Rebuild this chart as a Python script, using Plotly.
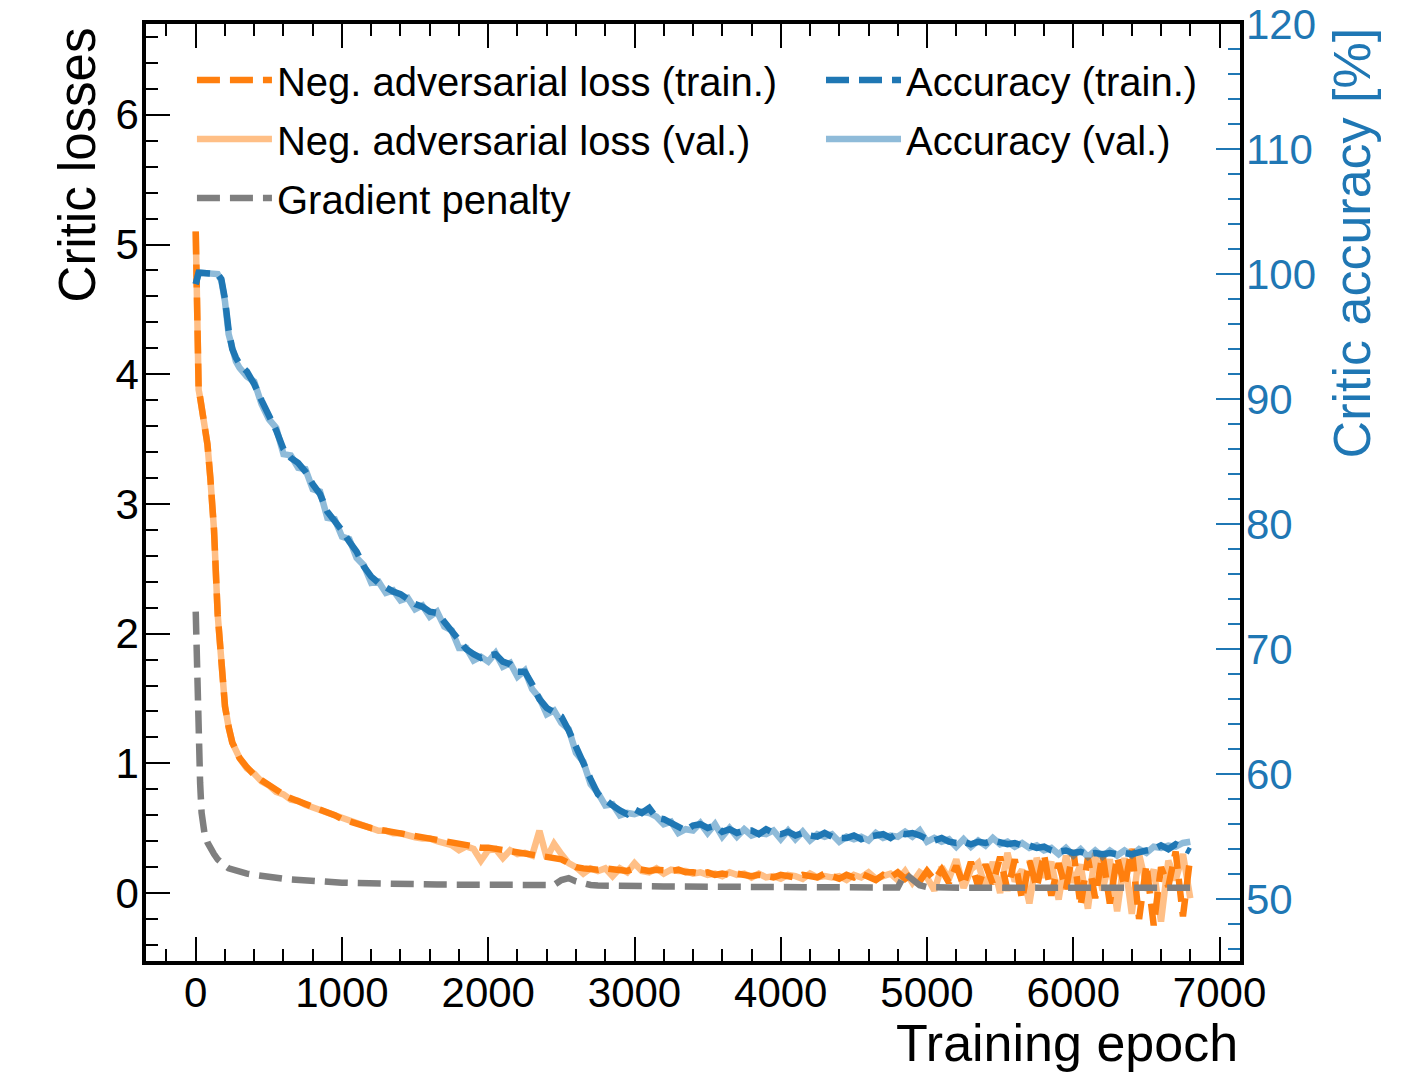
import plotly.graph_objects as go

# Epoch grid: fine steps over the initial transient, then every 50 epochs
epochs = [0, 5, 10, 15, 20, 30, 40, 50, 60, 80, 100, 125, 150, 175, 200, 225, 250, 275, 300] + list(range(350, 6801, 50))

# Critic accuracy [%] on the training set
acc_train = [
    99.2, 99.6, 99.9, 100.0, 100.1, 100.1, 100.1, 100.1, 100.1, 100.1, 100.1, 100.1, 100.0, 99.6, 98.0, 95.5, 94.0, 93.3, 92.8,
    92.2, 91.2, 89.9, 88.8, 87.5, 86.0, 85.3, 84.9, 84.2, 83.2,
    82.4, 81.0, 80.3, 79.5, 78.6, 77.8, 76.6, 75.8, 75.3, 74.9,
    74.6, 74.4, 74.0, 73.6, 73.4, 73.0, 72.9, 72.2, 71.4, 70.6,
    70.0, 69.6, 69.3, 69.5, 69.6, 69.0, 68.8, 68.2, 68.2, 67.2,
    66.0, 65.3, 65.0, 64.6, 63.5, 62.1, 60.8, 59.6, 58.4, 57.9,
    57.5, 57.1, 56.8, 57.2, 56.9, 57.3, 56.5, 56.4, 56.1, 55.7,
    55.5, 55.9, 56.0, 55.7, 55.9, 55.4, 55.6, 55.3, 55.5, 55.5,
    55.2, 55.6, 55.3, 55.2, 55.4, 55.1, 55.3, 55.1, 55.0, 55.3,
    55.0, 54.9, 54.9, 55.1, 54.8, 55.0, 55.1, 55.2, 54.9, 55.3,
    55.2, 55.3, 55.1, 54.8, 54.7, 54.9, 54.6, 54.5, 54.6, 54.4,
    54.6, 54.5, 54.7, 54.6, 54.4, 54.5, 54.3, 54.3, 54.1, 54.2,
    53.9, 53.8, 53.9, 53.7, 53.8, 53.6, 53.7, 53.6, 53.7, 53.6,
    53.7, 53.6, 53.8, 53.9, 54.0, 54.3, 54.0, 54.4, 54.1, 53.8,
]

# Critic accuracy [%] on the validation set
acc_val = [
    99.2, 99.6, 99.9, 100.0, 100.1, 100.1, 100.1, 100.1, 100.1, 100.1, 100.1, 100.1, 100.0, 99.5, 97.8, 95.2, 94.1, 93.0, 92.5,
    91.8, 91.4, 89.6, 88.4, 87.7, 85.6, 85.5, 84.5, 84.4, 82.8,
    82.6, 80.5, 80.4, 79.0, 78.8, 77.3, 76.7, 75.3, 75.4, 74.5,
    74.7, 73.9, 74.1, 73.2, 73.5, 72.6, 73.0, 71.8, 71.5, 70.1,
    70.1, 69.1, 69.4, 69.0, 69.7, 68.6, 68.9, 67.8, 68.3, 66.8,
    66.1, 64.8, 65.1, 64.1, 63.6, 61.7, 61.0, 59.2, 58.5, 57.5,
    57.6, 56.7, 56.9, 56.8, 57.0, 56.9, 56.6, 56.0, 56.2, 55.3,
    55.6, 55.5, 56.1, 55.3, 56.0, 55.0, 55.7, 55.0, 55.6, 55.1,
    55.3, 55.2, 55.5, 54.8, 55.5, 54.8, 55.4, 54.7, 55.2, 55.0,
    55.2, 54.6, 55.0, 54.8, 55.0, 54.7, 55.3, 54.9, 55.1, 55.0,
    55.4, 55.0, 55.5, 54.6, 54.9, 54.6, 54.8, 54.2, 54.8, 54.2,
    54.7, 54.3, 54.9, 54.4, 54.6, 54.2, 54.5, 54.1, 54.3, 53.9,
    54.1, 53.6, 54.1, 53.5, 54.0, 53.4, 53.9, 53.4, 53.9, 53.5,
    53.9, 53.5, 54.0, 53.7, 54.2, 54.1, 54.3, 54.2, 54.5, 54.6,
]

# Negative adversarial loss, training set
loss_train = [
    5.10, 4.50, 4.00, 3.92, 3.88, 3.82, 3.74, 3.67, 3.60, 3.46, 3.20, 2.80, 2.15, 1.72, 1.44, 1.28, 1.16, 1.10, 1.04,
    0.97, 0.91, 0.87, 0.83, 0.79, 0.76, 0.73, 0.71, 0.69, 0.66,
    0.64, 0.62, 0.60, 0.57, 0.55, 0.54, 0.52, 0.50, 0.49, 0.48,
    0.47, 0.46, 0.45, 0.43, 0.43, 0.42, 0.41, 0.39, 0.38, 0.37,
    0.36, 0.36, 0.35, 0.35, 0.34, 0.34, 0.33, 0.32, 0.31, 0.30,
    0.29, 0.28, 0.27, 0.26, 0.23, 0.20, 0.19, 0.18, 0.18, 0.19,
    0.18, 0.18, 0.17, 0.19, 0.18, 0.17, 0.18, 0.17, 0.17, 0.18,
    0.16, 0.16, 0.15, 0.16, 0.14, 0.15, 0.14, 0.15, 0.14, 0.13,
    0.14, 0.13, 0.12, 0.14, 0.13, 0.12, 0.14, 0.13, 0.12, 0.15,
    0.13, 0.11, 0.14, 0.12, 0.15, 0.13, 0.10, 0.14, 0.12, 0.16,
    0.11, 0.15, 0.09, 0.17, 0.10, 0.18, 0.08, 0.21, 0.06, 0.24,
    0.05, 0.22, 0.07, 0.28, 0.02, 0.26, -0.05, 0.25, 0.04, 0.30,
    -0.02, 0.23, 0.03, 0.33, -0.10, 0.27, -0.04, 0.30, -0.08, 0.28,
    0.05, 0.34, -0.20, 0.22, -0.25, 0.20, 0.05, 0.32, -0.18, 0.28,
]

# Negative adversarial loss, validation set
loss_val = [
    5.10, 4.50, 4.00, 3.92, 3.88, 3.82, 3.74, 3.67, 3.60, 3.46, 3.20, 2.80, 2.15, 1.72, 1.44, 1.28, 1.16, 1.10, 1.04,
    0.96, 0.92, 0.86, 0.83, 0.78, 0.76, 0.72, 0.71, 0.68, 0.66,
    0.63, 0.62, 0.59, 0.57, 0.55, 0.53, 0.52, 0.50, 0.48, 0.48,
    0.46, 0.46, 0.44, 0.43, 0.42, 0.42, 0.40, 0.38, 0.37, 0.33,
    0.36, 0.34, 0.25, 0.33, 0.34, 0.27, 0.33, 0.30, 0.31, 0.29,
    0.48, 0.27, 0.38, 0.30, 0.23, 0.20, 0.15, 0.19, 0.17, 0.19,
    0.13, 0.19, 0.16, 0.23, 0.17, 0.16, 0.19, 0.15, 0.18, 0.17,
    0.17, 0.15, 0.16, 0.14, 0.15, 0.13, 0.16, 0.14, 0.15, 0.12,
    0.15, 0.12, 0.13, 0.11, 0.14, 0.13, 0.11, 0.15, 0.12, 0.13,
    0.12, 0.13, 0.10, 0.14, 0.12, 0.16, 0.11, 0.13, 0.15, 0.10,
    0.17, 0.08, 0.16, 0.12, 0.02, 0.20, 0.11, 0.26, 0.04, 0.18,
    0.23, 0.03, 0.24, 0.00, 0.31, 0.09, 0.18, -0.08, 0.27, 0.12,
    0.24, -0.05, 0.29, 0.08, 0.22, -0.12, 0.31, 0.02, 0.26, -0.14,
    0.27, -0.16, 0.30, 0.06, 0.18, -0.22, 0.25, 0.10, 0.30, -0.04,
]

# Gradient penalty term
grad_penalty = [
    2.17, 1.85, 1.60, 1.45, 1.20, 0.85, 0.62, 0.52, 0.46, 0.39, 0.34, 0.30, 0.26, 0.23, 0.21, 0.19, 0.18, 0.17, 0.16,
    0.15, 0.14, 0.13, 0.125, 0.12, 0.11, 0.105, 0.10, 0.095, 0.09,
    0.088, 0.085, 0.082, 0.08, 0.078, 0.076, 0.075, 0.074, 0.073, 0.072,
    0.071, 0.07, 0.069, 0.068, 0.067, 0.066, 0.066, 0.065, 0.065, 0.064,
    0.064, 0.063, 0.063, 0.062, 0.062, 0.061, 0.061, 0.060, 0.060, 0.060,
    0.059, 0.058, 0.062, 0.10, 0.115, 0.09, 0.072, 0.062, 0.058, 0.056,
    0.056, 0.055, 0.054, 0.053, 0.053, 0.052, 0.052, 0.051, 0.051, 0.050,
    0.050, 0.050, 0.049, 0.049, 0.049, 0.048, 0.048, 0.048, 0.047, 0.047,
    0.047, 0.047, 0.046, 0.046, 0.046, 0.046, 0.045, 0.045, 0.045, 0.045,
    0.045, 0.044, 0.044, 0.044, 0.044, 0.044, 0.043, 0.043, 0.043, 0.043,
    0.15, 0.10, 0.06, 0.045, 0.042, 0.042, 0.042, 0.041, 0.041, 0.041,
    0.041, 0.041, 0.040, 0.040, 0.040, 0.040, 0.040, 0.040, 0.040, 0.040,
    0.040, 0.040, 0.040, 0.040, 0.040, 0.040, 0.040, 0.040, 0.040, 0.040,
    0.040, 0.040, 0.040, 0.040, 0.040, 0.040, 0.040, 0.040, 0.040, 0.040,
]

ORANGE = "#ff7f0e"
ORANGE_LIGHT = "rgba(255,127,14,0.5)"
BLUE = "#1f77b4"
BLUE_LIGHT = "rgba(31,119,180,0.5)"
GRAY = "#7f7f7f"
LW = 6.5
DASH = "23px,10px"
FONT = "Liberation Sans, Arial, Helvetica, sans-serif"

fig = go.Figure()

# Losses on the left axis (validation drawn first, training on top)
fig.add_trace(go.Scatter(x=epochs, y=loss_val, mode="lines", name="Neg. adversarial loss (val.)",
                         line=dict(color=ORANGE_LIGHT, width=LW), legend="legend", legendrank=2,
                         legendgroup="lv"))
fig.add_trace(go.Scatter(x=epochs, y=loss_train, mode="lines", name="Neg. adversarial loss (train.)",
                         line=dict(color=ORANGE, width=LW, dash=DASH), legend="legend", legendrank=1,
                         legendgroup="lt"))
fig.add_trace(go.Scatter(x=epochs, y=grad_penalty, mode="lines", name="Gradient penalty",
                         line=dict(color=GRAY, width=LW, dash=DASH), legend="legend", legendrank=3,
                         legendgroup="gp"))

# Accuracy on the right axis
fig.add_trace(go.Scatter(x=epochs, y=acc_val, mode="lines", name="Accuracy (val.)", yaxis="y2",
                         line=dict(color=BLUE_LIGHT, width=LW), legend="legend2", legendrank=2,
                         legendgroup="av"))
fig.add_trace(go.Scatter(x=epochs, y=acc_train, mode="lines", name="Accuracy (train.)", yaxis="y2",
                         line=dict(color=BLUE, width=LW, dash=DASH), legend="legend2", legendrank=1,
                         legendgroup="at"))

tick_common = dict(ticks="inside", ticklen=24, tickwidth=1.6, showgrid=False, zeroline=False,
                   automargin=False)
minor_common = dict(ticks="inside", ticklen=12, tickwidth=1.6)
legend_common = dict(xanchor="left", yanchor="top", bgcolor="rgba(0,0,0,0)",
                     font=dict(size=40, family=FONT, color="black"), itemwidth=75,
                     tracegroupgap=4, groupclick="toggleitem")

fig.update_layout(
    width=1404, height=1075,
    margin=dict(l=146, r=164, t=24, b=114, autoexpand=False),
    paper_bgcolor="white", plot_bgcolor="white",
    font=dict(family=FONT, color="black"),
    showlegend=True,
    xaxis=dict(range=[-340, 7140], tick0=0, dtick=1000, tickcolor="black",
               showline=True, linecolor="black", linewidth=3.5, mirror="ticks",
               minor=dict(dtick=200, tick0=0, tickcolor="black", **minor_common),
               tickfont=dict(size=42, color="black"), ticklabelstandoff=-8, **tick_common),
    yaxis=dict(range=[-0.524, 6.70], tick0=0, dtick=1, tickcolor="black",
               showline=True, linecolor="black", linewidth=3.5, mirror=True,
               minor=dict(dtick=0.2, tick0=0, tickcolor="black", **minor_common),
               tickfont=dict(size=42, color="black"), ticklabelstandoff=-5, **tick_common),
    yaxis2=dict(range=[45.06, 120], overlaying="y", side="right", tick0=0, dtick=10,
                tickcolor=BLUE, showline=False,
                minor=dict(dtick=2, tick0=0, tickcolor=BLUE, **minor_common),
                tickfont=dict(size=42, color=BLUE), ticklabelstandoff=5, **tick_common),
    legend=dict(x=0.042, y=0.975, **legend_common),
    legend2=dict(x=0.617, y=0.975, **legend_common),
    annotations=[
        dict(text="Critic losses", xref="paper", yref="paper", x=-0.063, y=0.998,
             xanchor="center", yanchor="top", textangle=-90, showarrow=False,
             font=dict(size=51, family=FONT, color="black")),
        dict(text="Critic accuracy [%]", xref="paper", yref="paper", x=1.1024, y=0.998,
             xanchor="center", yanchor="top", textangle=-90, showarrow=False,
             font=dict(size=52, family=FONT, color=BLUE)),
        dict(text="Training epoch", xref="paper", yref="paper", x=1.0, y=-0.054,
             xanchor="right", yanchor="top", showarrow=False,
             font=dict(size=52, family=FONT, color="black")),
    ],
)

fig.write_html("out.html")
